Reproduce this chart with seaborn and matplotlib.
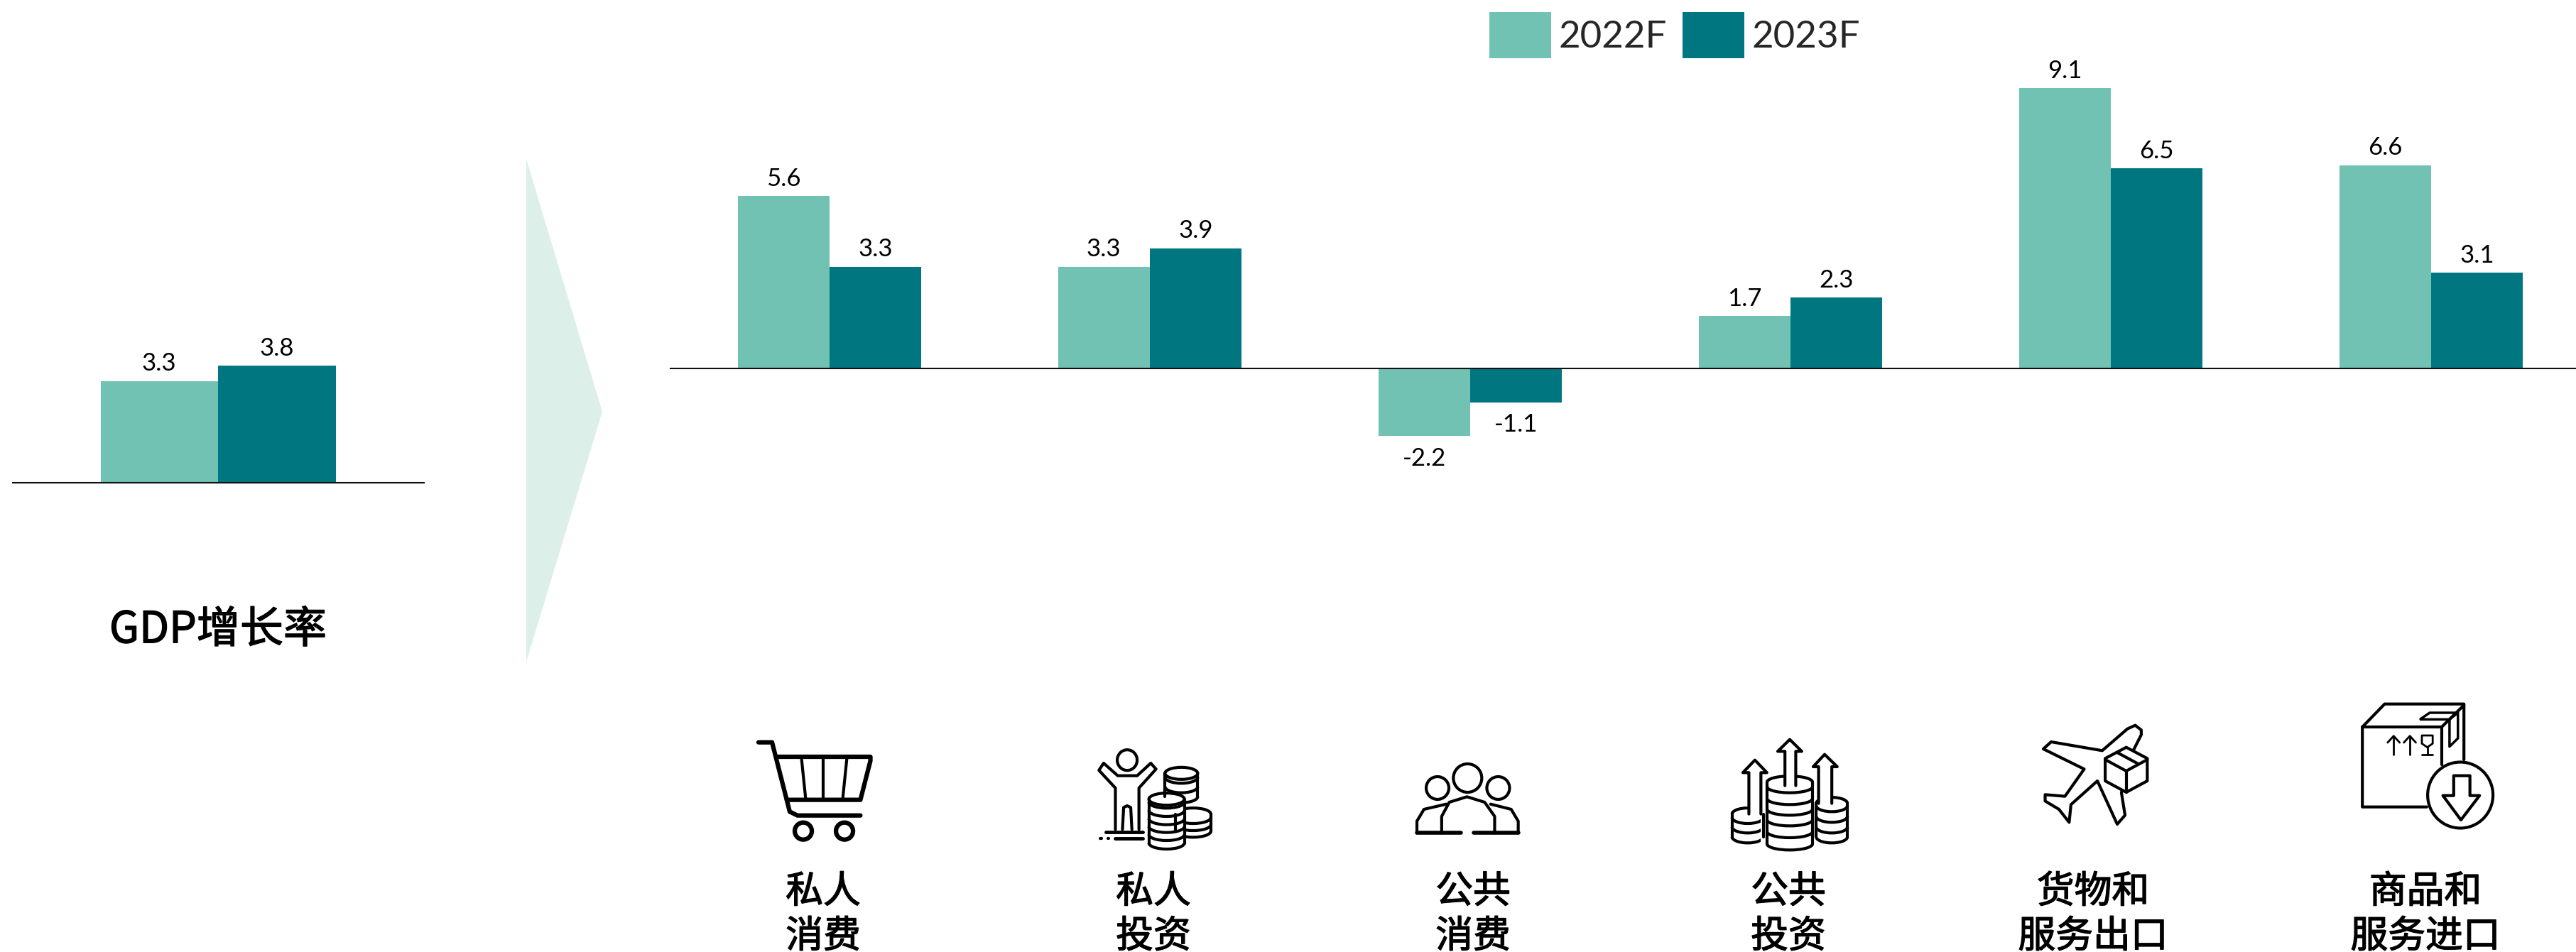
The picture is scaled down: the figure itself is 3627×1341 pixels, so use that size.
import matplotlib
matplotlib.use("Agg")
import matplotlib.pyplot as plt
import matplotlib.patheffects as pe
import pandas as pd
import seaborn as sns
from matplotlib.patches import Arc, Ellipse, Polygon, Rectangle

W, H = 3627, 1341

years = ["2022F", "2023F"]
colors = ["#72C2B4", "#007680"]
gdp_values = [3.3, 3.8]
categories = ["私人\n消费", "私人\n投资", "公共\n消费", "公共\n投资", "货物和\n服务出口", "商品和\n服务进口"]
values_2022 = [5.6, 3.3, -2.2, 1.7, 9.1, 6.6]
values_2023 = [3.3, 3.9, -1.1, 2.3, 6.5, 3.1]
label_x = [1159, 1624, 2074, 2518, 2947, 3415]

sns.set_theme(style="white")
plt.rcParams["font.family"] = ["Lato", "Noto Sans CJK SC", "DejaVu Sans"]
cjk = ["Noto Sans CJK SC", "DejaVu Sans"]
heavy = [pe.withStroke(linewidth=1.0, foreground="black")]

fig = plt.figure(figsize=(W / 100, H / 100), dpi=100, facecolor="white")

px_per_unit = 43.4


def make_axes(x0, x1, base_y, xlim):
    ax = fig.add_axes([x0 / W, 0, (x1 - x0) / W, 1])
    ax.patch.set_alpha(0)
    return ax, xlim, (-(H - base_y) / px_per_unit, base_y / px_per_unit)


def finish(ax, xlim, ylim):
    ax.set_xlim(*xlim)
    ax.set_ylim(*ylim)
    ax.set(xlabel=None, ylabel=None, xticks=[], yticks=[])
    sns.despine(ax=ax, left=True, top=True, right=True)
    ax.spines["bottom"].set_position(("data", 0))
    ax.spines["bottom"].set_color("#111111")
    ax.spines["bottom"].set_linewidth(1.5)
    for c in ax.containers:
        vals = c.datavalues
        ax.bar_label(c, labels=[f"{v:.1f}" if v >= 0 else "" for v in vals], fontsize=25, padding=6, color="black")
        ax.bar_label(c, labels=[f"{v:.1f}" if v < 0 else "" for v in vals], fontsize=25, padding=11, color="black")


# left chart
df_gdp = pd.DataFrame({"cat": ["GDP", "GDP"], "year": years, "value": gdp_values})
ax_l, xl, yl = make_axes(18, 597, 680, ((18 - 307) / 331, (597 - 307) / 331))
sns.barplot(data=df_gdp, x="cat", y="value", hue="year", palette=colors, width=1.0, gap=0,
            saturation=1, legend=False, ax=ax_l, linewidth=0)
finish(ax_l, xl, yl)

# right chart
df = pd.DataFrame({"cat": categories, "2022F": values_2022, "2023F": values_2023})
df = df.melt(id_vars="cat", var_name="year", value_name="value")
ax_r, xl, yl = make_axes(944, W, 519, ((944 - 1168) / 451, (W - 1168) / 451))
sns.barplot(data=df, x="cat", y="value", hue="year", palette=colors, width=0.574, gap=0,
            saturation=1, ax=ax_r, linewidth=0)
finish(ax_r, xl, yl)

handles, labels = ax_r.get_legend_handles_labels()
ax_r.legend(handles, labels, loc="upper left", bbox_to_anchor=(2097 / W, 1 - 17 / H),
            bbox_transform=fig.transFigure, frameon=False, ncol=2, fontsize=38, borderpad=0,
            borderaxespad=0, handlelength=1.65, handleheight=1.526, handletextpad=0.2,
            columnspacing=0.42)

# overlay in pixel coordinates for the arrow, captions and icons
ov = fig.add_axes([0, 0, 1, 1], zorder=5)
ov.set_xlim(0, W)
ov.set_ylim(H, 0)
ov.axis("off")

ov.add_patch(Polygon([(741, 224), (848, 580), (741, 932)], closed=True, fc="#DCEFE9", ec="none"))
ov.text(307, 888, "GDP增长率", family=cjk, fontsize=44, ha="center", va="center",
        color="black", path_effects=heavy)
for x, lab in zip(label_x, categories):
    top, bottom = lab.split("\n")
    ov.text(x, 1256, top, family=cjk, fontsize=38, ha="center", va="center", color="black", path_effects=heavy)
    ov.text(x, 1319, bottom, family=cjk, fontsize=38, ha="center", va="center", color="black", path_effects=heavy)


def a(x, y):
    return 1000 + x / 1.206, 960 + y / 3


def b(x, y):
    return 2300 + x / 1.182, 960 + y / 3


def line(f, pts, lw=3.0, closed=False, fill="none"):
    p = [f(x, y) for x, y in pts]
    ov.add_patch(Polygon(p, closed=closed, fc=fill, ec="black", lw=lw, joinstyle="round", capstyle="round"))


def oval(f, x, y, w, h, lw=3.0):
    cx, cy = f(x, y)
    ov.add_patch(Ellipse((cx, cy), w, h, fc="white", ec="black", lw=lw))


def stack(f, x, half, top, lows, eh=17, lw=3.0, draw_top=True):
    cx, ty = f(x, top)
    low_y = [f(x, l)[1] for l in lows]
    rx = half
    ov.add_patch(Rectangle((cx - rx, ty), 2 * rx, low_y[-1] - eh / 2 - ty, fc="white", ec="none"))
    ov.plot([cx - rx, cx - rx], [ty, low_y[-1] - eh / 2], color="black", lw=lw)
    ov.plot([cx + rx, cx + rx], [ty, low_y[-1] - eh / 2], color="black", lw=lw)
    if draw_top:
        ov.add_patch(Ellipse((cx, ty), 2 * rx, eh, fc="white", ec="black", lw=lw))
    else:
        ov.add_patch(Arc((cx, ty), 2 * rx, eh, theta1=180, theta2=360, ec="black", lw=lw))
    for ly in low_y:
        ov.add_patch(Arc((cx, ly - eh / 2), 2 * rx, eh, theta1=0, theta2=180, ec="black", lw=lw))


# cart
line(a, [(82, 257), (105, 257), (135, 550), (148, 566), (255, 566)], lw=4.5)
line(a, [(115, 318), (272, 318), (272, 335), (255, 500), (130, 500)], lw=4.5)
line(a, [(155, 325), (162, 495)], lw=3)
line(a, [(192, 325), (192, 495)], lw=3)
line(a, [(232, 325), (225, 495)], lw=3)
oval(a, 158, 632, 24, 24, lw=4.5)
oval(a, 228, 632, 24, 24, lw=4.5)

# person and coins
oval(a, 708, 332, 28, 29)
line(a, [(688, 625), (688, 450), (660, 375), (668, 345), (692, 398), (725, 398), (748, 345), (757, 370),
         (728, 450), (728, 625)])
line(a, [(700, 625), (702, 532), (708, 525), (714, 532), (716, 625)])
line(a, [(672, 637), (735, 637)], lw=3.5)
line(a, [(688, 664), (735, 664)], lw=3.5)
line(a, [(662, 664), (664, 664)], lw=3)
line(a, [(675, 664), (677, 664)], lw=3)
stack(a, 800, 23, 388, [430, 470, 512])
stack(a, 820, 25, 560, [600, 630, 658], draw_top=False)
stack(a, 775, 25, 497, [535, 570, 605, 638, 672, 708])

# people
oval(a, 1235, 450, 32, 32)
oval(a, 1338, 450, 32, 32)
oval(a, 1286, 408, 40, 40)
line(a, [(1200, 640), (1200, 590), (1212, 540), (1250, 518)])
line(a, [(1372, 640), (1372, 590), (1360, 540), (1325, 518)])
line(a, [(1242, 640), (1242, 570), (1255, 510), (1285, 487), (1315, 510), (1332, 570), (1332, 640)], lw=3)
line(a, [(1200, 640), (1275, 640)], lw=4)
line(a, [(1297, 640), (1372, 640)], lw=4)

# coins and arrows
stack(b, 190, 22, 560, [600, 640, 682], draw_top=False)
stack(b, 330, 22, 515, [550, 595, 640, 682], draw_top=False)
ov.add_patch(Rectangle(b(212, 520), 77, 170, fc="white", ec="none"))
stack(b, 260, 32, 425, [470, 520, 565, 610, 660, 712], draw_top=False)
line(b, [(192, 560), (192, 385), (182, 385), (202, 332), (222, 385), (212, 385), (212, 560)], fill="white")
line(b, [(308, 515), (308, 360), (299, 360), (318, 308), (339, 360), (330, 360), (330, 515)], fill="white")
line(b, [(252, 440), (252, 295), (240, 295), (260, 245), (280, 295), (270, 295), (270, 440)], fill="white")

# plane and parcel
line(b, [(835, 185), (822, 200), (780, 292), (695, 255), (682, 285), (750, 370), (718, 485), (685, 478),
         (685, 505), (708, 540), (725, 595), (728, 520), (772, 420), (805, 603), (818, 565), (812, 470),
         (830, 300), (845, 225), (845, 205)], closed=True, fill="white")
line(b, [(820, 278), (855, 325), (855, 420), (820, 468), (785, 420), (785, 325)], closed=True, fill="white")
line(b, [(785, 330), (820, 378), (855, 330)])
line(b, [(820, 378), (820, 468)])
line(b, [(805, 300), (840, 348)])

# box
line(b, [(1320, 530), (1213, 530), (1213, 192), (1250, 95), (1382, 95), (1382, 330)])
line(b, [(1213, 192), (1345, 192), (1345, 350)])
line(b, [(1345, 192), (1382, 100)])
line(b, [(1310, 158), (1325, 132), (1372, 132), (1358, 160), (1310, 160)], lw=2.5)
line(b, [(1358, 160), (1358, 275), (1372, 240), (1372, 132)], lw=2.5)
for x0 in (1265, 1292):
    line(b, [(x0, 310), (x0, 232)], lw=2)
    line(b, [(x0 - 10, 258), (x0, 230), (x0 + 10, 258)], lw=2)
line(b, [(1312, 228), (1330, 228), (1330, 262), (1321, 278), (1312, 262)], closed=True, lw=2)
line(b, [(1321, 278), (1321, 308)], lw=2)
line(b, [(1312, 310), (1330, 310)], lw=2)
oval(b, 1376, 480, 92, 93)
line(b, [(1365, 398), (1392, 398), (1392, 482), (1408, 482), (1377, 585), (1347, 482), (1365, 482)], closed=True)

fig.savefig("out.png", dpi=100, facecolor="white")
